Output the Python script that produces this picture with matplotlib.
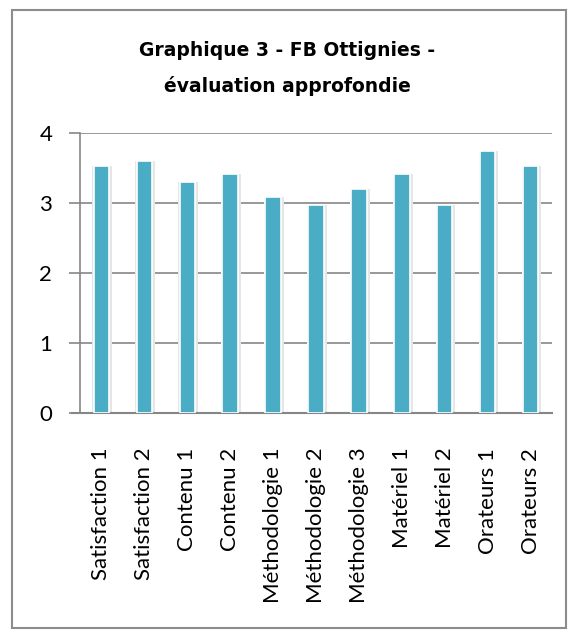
import matplotlib.pyplot as plt
from matplotlib.patches import Rectangle
import numpy as np

categories = ['Satisfaction 1', 'Satisfaction 2', 'Contenu 1', 'Contenu 2',
              'Méthodologie 1', 'Méthodologie 2', 'Méthodologie 3',
              'Matériel 1', 'Matériel 2', 'Orateurs 1', 'Orateurs 2']
scores = [3.53, 3.60, 3.30, 3.42, 3.09, 2.97, 3.20, 3.42, 2.97, 3.75, 3.53]
yticks = [0, 1, 2, 3, 4]
title = 'Graphique 3 - FB Ottignies -\névaluation approfondie'

fig = plt.figure(figsize=(5.75, 6.35), dpi=100)

# outer frame
fig.patches.append(Rectangle((12 / 575, 1 - 628 / 635), 554 / 575, 618 / 635,
                             transform=fig.transFigure, fill=False,
                             edgecolor='#8c8c8c', linewidth=1.5))

ax = fig.add_axes([80 / 575, 1 - 413 / 635, 472 / 575, 280 / 635])
x = np.arange(len(categories))

# soft shadow behind each bar
ax.bar(x + 0.02, scores, width=0.46, color='#e6e6e6', zorder=2)
ax.bar(x, scores, width=0.36, color='#4bacc6', edgecolor='white',
       linewidth=1.2, zorder=3)

ax.set_xlim(-0.5, len(categories) - 0.5)
ax.set_ylim(0, 4)
ax.set_yticks(yticks)
ax.set_yticklabels([str(t) for t in yticks], fontsize=16, family='Lato')
ax.set_xticks(x)
ax.set_xticklabels(categories, rotation=90, fontsize=16, family='Lato')
ax.tick_params(axis='x', length=0, pad=25)
ax.tick_params(axis='y', length=8, width=1.2, color='#868686', pad=12)

ax.grid(axis='y', color='#868686', linewidth=1.2, zorder=1)
for s in ['top', 'right']:
    ax.spines[s].set_visible(False)
ax.spines['left'].set_color('#868686')
ax.spines['left'].set_linewidth(1.2)
ax.spines['bottom'].set_color('#868686')
ax.spines['bottom'].set_linewidth(1.5)
ax.spines['bottom'].set_bounds(-0.68, len(categories) - 0.5)

fig.text(0.5, 1 - 69 / 635, title, ha='center', va='center',
         fontsize=13.5, fontweight='bold', family='DejaVu Sans', linespacing=2.0)

fig.savefig('out.png', dpi=100)
